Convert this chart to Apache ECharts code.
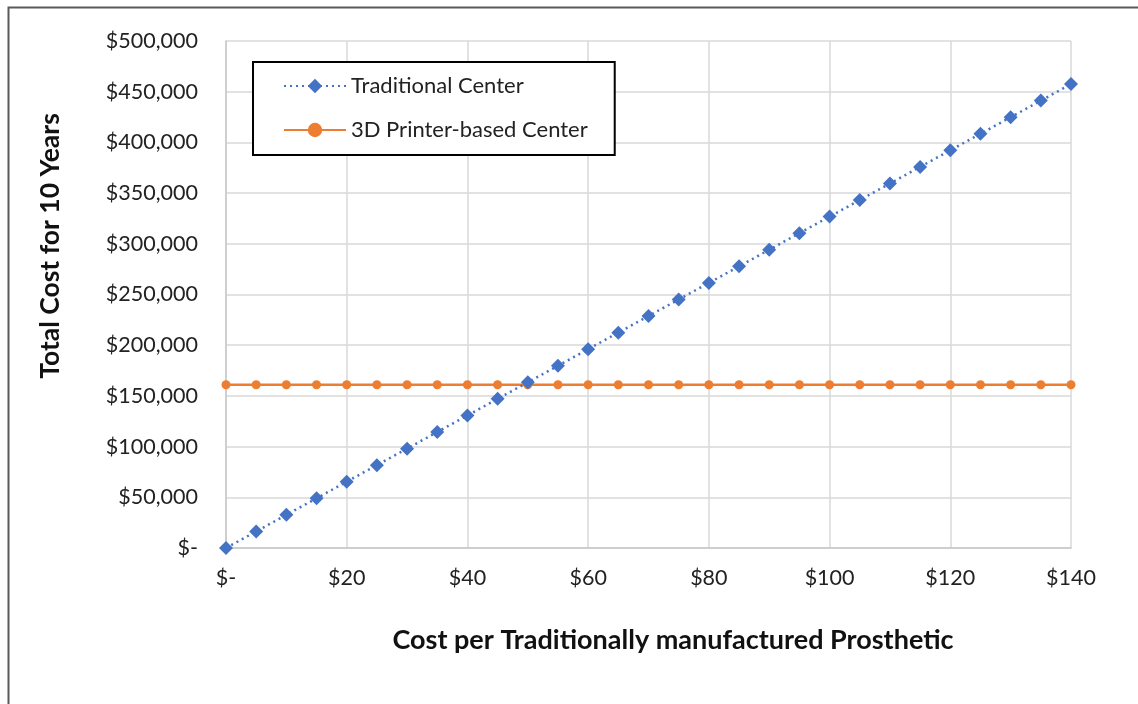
<!DOCTYPE html>
<html>
<head>
<meta charset="utf-8">
<script src="https://cdn.jsdelivr.net/npm/echarts@6/dist/echarts.min.js"></script>
<style>
  html, body { margin: 0; padding: 0; background: #fff; }
  #chart { width: 1138px; height: 704px; }
</style>
</head>
<body>
<div id="chart"></div>
<script>
// cost per traditionally manufactured prosthetic ($)
var prostheticCost = [0, 5, 10, 15, 20, 25, 30, 35, 40, 45, 50, 55, 60, 65, 70,
  75, 80, 85, 90, 95, 100, 105, 110, 115, 120, 125, 130, 135, 140];
// total cost for 10 years, traditional center
var traditionalCost = [0, 16300, 32700, 49000, 65400, 81700, 98000, 114400, 130700,
  147100, 163400, 179700, 196100, 212400, 228800, 245100, 261400, 277800, 294100,
  310500, 326800, 343100, 359500, 375800, 392200, 408500, 424800, 441200, 457500];
// total cost for 10 years, 3D printer-based center (flat)
var printerCost = [161000, 161000, 161000, 161000, 161000, 161000, 161000, 161000,
  161000, 161000, 161000, 161000, 161000, 161000, 161000, 161000, 161000, 161000,
  161000, 161000, 161000, 161000, 161000, 161000, 161000, 161000, 161000, 161000, 161000];

var seriesNames = ['Traditional Center', '3D Printer-based Center'];
var xTitle = 'Cost per Traditionally manufactured Prosthetic';
var yTitle = 'Total Cost for 10 Years';

function pairs(xs, ys) {
  var out = [];
  for (var i = 0; i < xs.length; i++) {
    out.push([xs[i], ys[i]]);
  }
  return out;
}

function money(v) {
  if (v === 0) return '$-';
  return '$' + v.toString().replace(/\B(?=(\d{3})+(?!\d))/g, ',');
}

var font = 'Lato, "Open Sans", sans-serif';
var chart = echarts.init(document.getElementById('chart'));

var option = {
  backgroundColor: '#fff',
  animation: false,
  textStyle: { fontFamily: font },
  grid: { left: 226, right: 67, top: 41, bottom: 156 },
  legend: {
    left: 253,
    top: 62,
    orient: 'vertical',
    backgroundColor: '#fff',
    borderColor: '#000',
    borderWidth: 2,
    borderRadius: 0,
    padding: [13, 27, 14, 30],
    itemWidth: 62,
    itemHeight: 18,
    itemGap: 22,
    textStyle: { fontSize: 22, color: '#222', fontFamily: font },
    data: seriesNames
  },
  xAxis: {
    type: 'value',
    min: 0,
    max: 140,
    interval: 20,
    axisLine: { show: true, lineStyle: { color: '#c8c8c8', width: 1.5 } },
    axisTick: { show: false },
    splitLine: { show: true, lineStyle: { color: '#d9d9d9', width: 1.5 } },
    axisLabel: {
      margin: 19,
      fontSize: 21.5,
      color: '#222',
      formatter: money
    }
  },
  yAxis: {
    type: 'value',
    min: 0,
    max: 500000,
    interval: 50000,
    axisLine: { show: true, lineStyle: { color: '#c8c8c8', width: 1.5 } },
    axisTick: { show: false },
    splitLine: { show: true, lineStyle: { color: '#d9d9d9', width: 1.5 } },
    axisLabel: {
      margin: 28,
      fontSize: 21.5,
      color: '#222',
      formatter: money
    }
  },
  graphic: [
    {
      type: 'rect',
      left: 6, top: 5,
      shape: { width: 1300, height: 900 },
      style: { fill: 'none', stroke: '#5a5a5a', lineWidth: 2 },
      silent: true,
      z: -10
    },
    {
      type: 'text',
      x: 50, y: 246,
      rotation: Math.PI / 2,
      style: {
        text: yTitle,
        fontSize: 26.5, fontWeight: 'bold', fontFamily: font,
        fill: '#111', align: 'center', verticalAlign: 'middle'
      }
    },
    {
      type: 'text',
      x: 673, y: 640,
      style: {
        text: xTitle,
        fontSize: 27, fontWeight: 'bold', fontFamily: font,
        fill: '#111', align: 'center', verticalAlign: 'middle'
      }
    }
  ],
  series: [
    {
      name: seriesNames[0],
      type: 'line',
      data: pairs(prostheticCost, traditionalCost),
      symbol: 'diamond',
      symbolSize: 14,
      color: '#4472C4',
      lineStyle: { color: '#4472C4', width: 2.5, type: [2, 4] },
      itemStyle: { color: '#4472C4' },
      z: 3
    },
    {
      name: seriesNames[1],
      type: 'line',
      data: pairs(prostheticCost, printerCost),
      symbol: 'circle',
      symbolSize: 9,
      color: '#ED7D31',
      lineStyle: { color: '#ED7D31', width: 2.5 },
      itemStyle: { color: '#ED7D31' },
      z: 2
    }
  ]
};

chart.setOption(option);
</script>
</body>
</html>
